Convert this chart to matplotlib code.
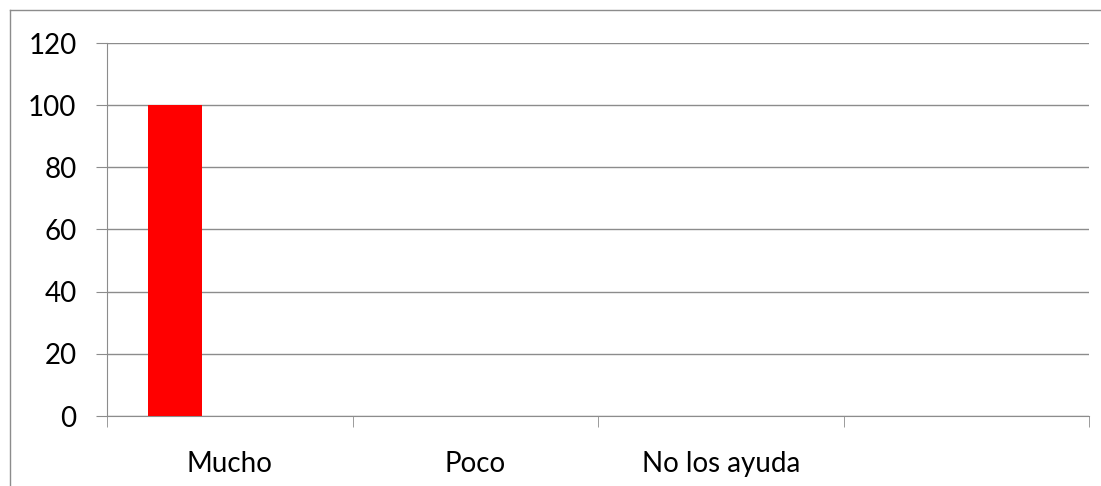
import matplotlib.pyplot as plt
import numpy as np
from matplotlib.lines import Line2D

categories = ["Mucho", "Poco", "No los ayuda", ""]
serie1 = [100, 0, 0, 0]
serie2 = [0, 0, 0, 0]
serie3 = [0, 0, 0, 0]
yticks = [0, 20, 40, 60, 80, 100, 120]

plt.rcParams['font.family'] = ['Lato', 'DejaVu Sans']

fig = plt.figure(figsize=(11.01, 4.86), dpi=100)
ax = fig.add_axes([107 / 1101, 1 - 416 / 486, (1089 - 107) / 1101, (416 - 43) / 486])

# clustered columns like excel: 3 series, gap width 150%
n_series = 3
w = 1 / (n_series + 1.5)
x = np.arange(len(categories)) + 0.5
for i, vals in enumerate([serie1, serie2, serie3]):
    ax.bar(x + (i - 1) * w, vals, width=w, color="#FF0000", zorder=3)

ax.set_xlim(0, len(categories))
ax.set_ylim(0, 120)
ax.set_yticks(yticks)
ax.yaxis.grid(True, color="#8c8c8c", linewidth=1)
ax.set_axisbelow(True)

ax.set_xticks(x)
ax.set_xticklabels(categories, fontsize=20)
ax.set_xticks(np.arange(len(categories) + 1), minor=True)
ax.tick_params(axis="x", which="major", length=0, pad=25)
ax.tick_params(axis="x", which="minor", length=8, color="#8c8c8c", direction="out")
ax.tick_params(axis="y", length=8, color="#8c8c8c", labelsize=20, pad=14)

for s in ["top", "right"]:
    ax.spines[s].set_visible(False)
ax.spines["left"].set_color("#8c8c8c")
ax.spines["bottom"].set_color("#8c8c8c")

# outer chart border (cut at right and bottom)
fig.add_artist(Line2D([10 / 1101, 10 / 1101], [1 - 10 / 486, 0], transform=fig.transFigure, color="#8c8c8c", lw=1))
fig.add_artist(Line2D([10 / 1101, 1], [1 - 10 / 486, 1 - 10 / 486], transform=fig.transFigure, color="#8c8c8c", lw=1))

fig.savefig("out.png", dpi=100)
